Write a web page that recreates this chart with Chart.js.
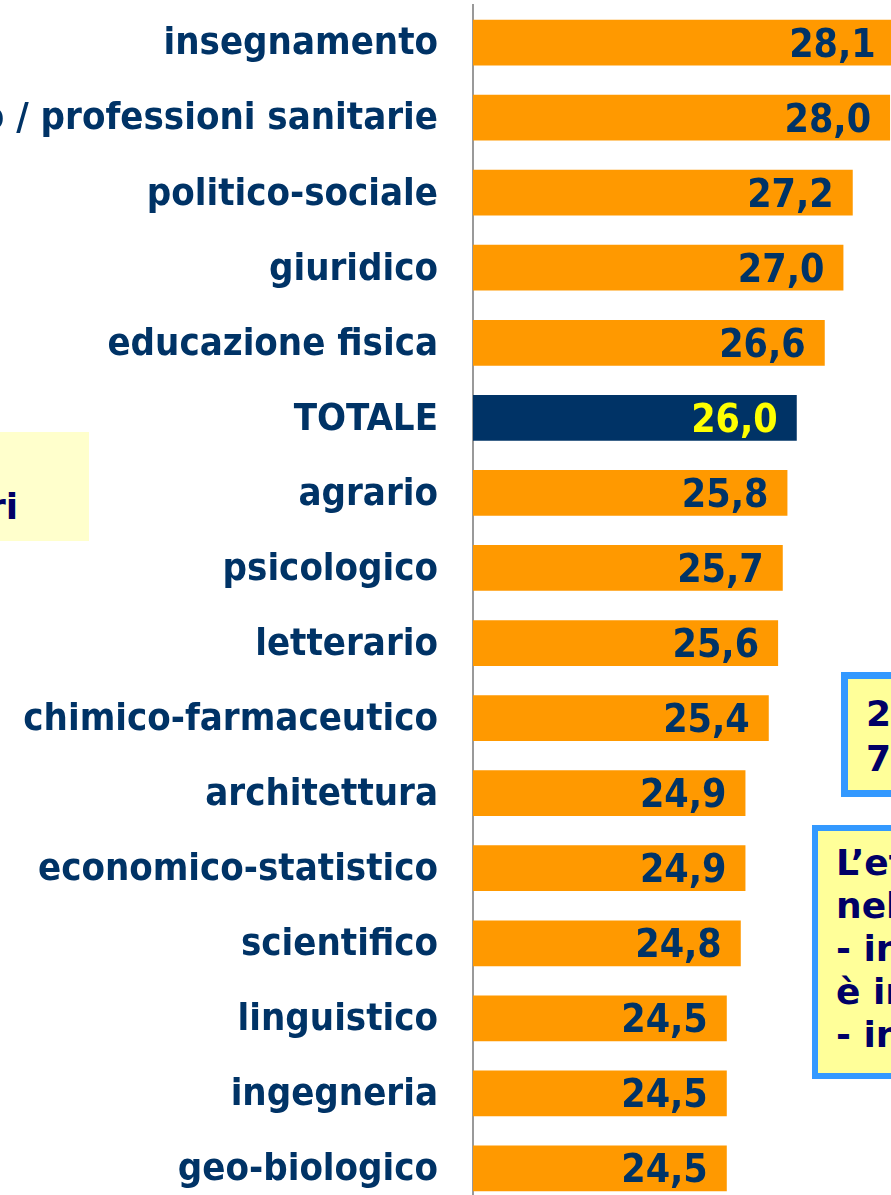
<!DOCTYPE html>
<html>
<head>
<meta charset="utf-8">
<script src="https://cdn.jsdelivr.net/npm/chart.js@4.4.1/dist/chart.umd.min.js"></script>
<style>
  html, body { margin: 0; padding: 0; background: #fff; overflow: hidden; }
  #wrap { position: relative; width: 891px; height: 1206px; }
  .note { position: absolute; box-sizing: border-box; overflow: hidden; color: #000066;
          font: bold 36px "DejaVu Sans", sans-serif; white-space: nowrap; }
  .note span { position: absolute; }
</style>
</head>
<body>
<div id="wrap">
  <canvas id="chart"></canvas>

  <!-- boxes cut by the frame -->
  <div class="note" style="left:0; top:432px; width:89px; height:109px; background:#ffffcc;">
    <span style="right:71px; bottom:16px; line-height:1;">ri</span>
  </div>
  <div class="note" style="left:841px; top:672px; width:60px; height:125px; background:#ffff99; border:7px solid #3399ff;">
    <span style="left:18px; top:12px; line-height:45px;">2<br>7</span>
  </div>
  <div class="note" style="left:812px; top:825px; width:90px; height:254px; background:#ffff99; border:6px solid #3399ff;">
    <span style="left:18px; top:10px; line-height:43px;">L’età<br>nel<br>- in<br>è in<br>- in</span>
  </div>
</div>

<script>
// categories, top to bottom
const labels = [
  "insegnamento",
  "medico / professioni sanitarie",
  "politico-sociale",
  "giuridico",
  "educazione fisica",
  "TOTALE",
  "agrario",
  "psicologico",
  "letterario",
  "chimico-farmaceutico",
  "architettura",
  "economico-statistico",
  "scientifico",
  "linguistico",
  "ingegneria",
  "geo-biologico"
];

const values = [28.1, 28.0, 27.2, 27.0, 26.6, 26.0, 25.8, 25.7, 25.6, 25.4, 24.9, 24.9, 24.8, 24.5, 24.5, 24.5];

const orange = "#ff9900";
const navy = "#003366";
const labelFont = '"DejaVu Sans Condensed", "DejaVu Sans", sans-serif';

const barColors = labels.map(l => l === "TOTALE" ? navy : orange);
const valueColors = labels.map(l => l === "TOTALE" ? "#ffff00" : navy);

// value written inside the end of each bar
const valueLabels = {
  id: "valueLabels",
  afterDatasetsDraw(chart) {
    const ctx = chart.ctx;
    const meta = chart.getDatasetMeta(0);
    ctx.save();
    ctx.font = "bold 39px " + labelFont;
    ctx.textAlign = "right";
    ctx.textBaseline = "alphabetic";
    meta.data.forEach((bar, i) => {
      ctx.fillStyle = valueColors[i];
      ctx.fillText(values[i].toFixed(1).replace(".", ","), bar.x - 19, bar.y + 14);
    });
    ctx.restore();
  }
};

new Chart(document.getElementById("chart"), {
  type: "bar",
  data: {
    labels: labels,
    datasets: [{
      data: values,
      backgroundColor: barColors,
      borderWidth: 0,
      barPercentage: 0.61,
      categoryPercentage: 1
    }]
  },
  options: {
    indexAxis: "y",
    responsive: true,
    maintainAspectRatio: false,
    animation: false,
    layout: { padding: { top: 5, left: 0, right: 0, bottom: 0 } },
    plugins: {
      legend: { display: false },
      tooltip: { enabled: false }
    },
    scales: {
      x: {
        display: false,
        min: 19.06,
        max: 28.02
      },
      y: {
        z: 1,
        afterFit(scale) {
          scale.width = 473;
          scale.paddingTop = 0;
          scale.paddingBottom = 0;
        },
        grid: { display: false, drawTicks: false },
        border: { display: true, color: "#999999", width: 2 },
        ticks: {
          padding: 35,
          labelOffset: 2,
          color: navy,
          font: { family: labelFont, size: 38, weight: "bold" }
        }
      }
    }
  },
  plugins: [valueLabels]
});
</script>
</body>
</html>
